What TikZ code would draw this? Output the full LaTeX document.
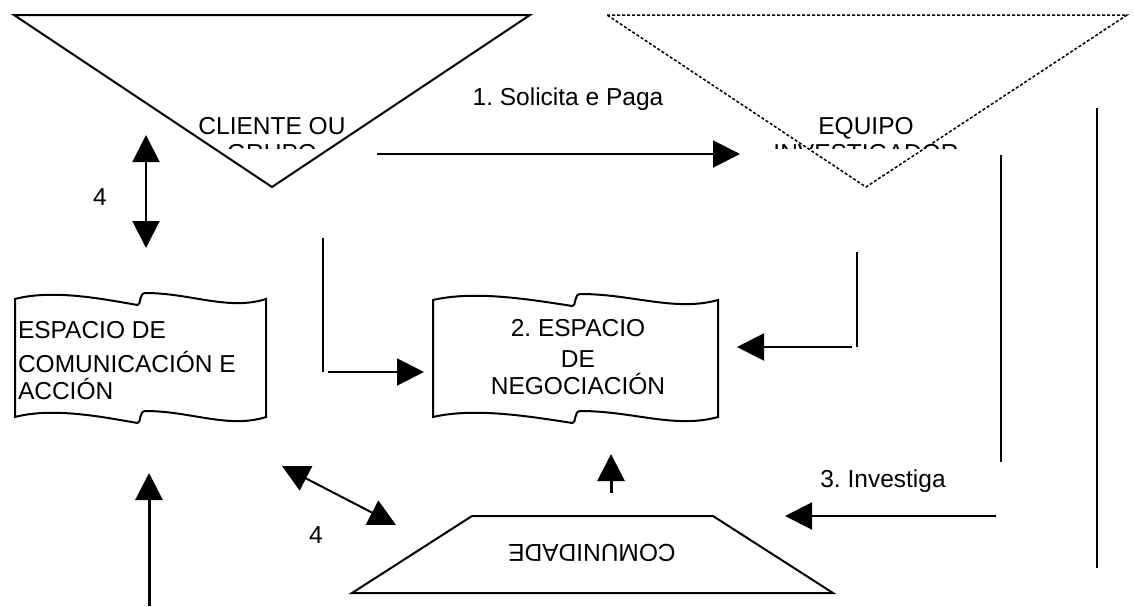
\documentclass[tikz,border=0pt]{standalone}
\usepackage{fontspec}
\setmainfont{Liberation Sans}
\frenchspacing
\usepackage{tikz}
\usetikzlibrary{arrows.meta}
\usetikzlibrary{positioning}

% cinta ondulada: esquina superior izquierda, ancho, alto
\newcommand{\cinta}[3]{%
  \begin{scope}[shift={#1}]
    \draw (0,0) .. controls ({0.15*#2},-10) and ({0.35*#2},0) .. ({0.5*#2-3},6)
      .. controls ({0.5*#2+1},6) and ({0.5*#2-2},-6) .. ({0.5*#2+5},-6)
      .. controls ({0.7*#2},-6) and ({0.85*#2},12) .. (#2,0)
      -- (#2,#3)
      .. controls ({0.85*#2},{#3+12}) and ({0.7*#2},{#3-6}) .. ({0.5*#2+5},{#3-6})
      .. controls ({0.5*#2-2},{#3-6}) and ({0.5*#2+1},{#3+6}) .. ({0.5*#2-3},{#3+6})
      .. controls ({0.35*#2},#3) and ({0.15*#2},{#3-10}) .. (0,#3) -- cycle;
  \end{scope}}

\begin{document}
\begin{tikzpicture}[x=1pt, y=-1pt, line width=2pt,
    every node/.style={font=\fontsize{24.5}{27}\selectfont, inner sep=0pt},
    flecha/.style={-{Triangle[length=27pt, width=27pt]}},
    dobleflecha/.style={{Triangle[length=27pt, width=27pt]}-{Triangle[length=27pt, width=27pt]}}]

        \useasboundingbox (0,0) rectangle (1134,606);

        % Triangulos
        \draw (14,15) -- (530,15) -- (272,187) -- cycle;
        \draw[line width=1.5pt, dash pattern=on 3pt off 2pt] (607,15) -- (1127,15) -- (866,187) -- cycle;
        \begin{scope}
            \clip (0,0) rectangle (1134,148);
            \node[align=center, anchor=north] (cliente) at (272,116) {CLIENTE OU\\GRUPO};
            \node[align=center, anchor=north] (equipo) at (866,116) {EQUIPO\\INVESTIGADOR};
        \end{scope}

        % Cintas
        \cinta{(15,299)}{251}{118}
        \cinta{(433,300)}{285}{117}
        \node[align=left, anchor=north west] (espacio) at (17,320) {ESPACIO DE\\[7pt]COMUNICACIÓN E\\ACCIÓN};
        \node[align=center, anchor=north] (negociacion) at (578,318) {2. ESPACIO\\[4pt]DE\\NEGOCIACIÓN};

        % Comunidade
        \draw (472,516) -- (713,516) -- (833,593) -- (352,593) -- cycle;
        \node[rotate=180] (comunidade) at (592,553) {COMUNIDADE};

        % Puntos libres
        \coordinate (s1) at (377,154);
        \coordinate (s2) at (740,154);
        \coordinate (c1) at (146,135);
        \coordinate (c2) at (146,248);
        \coordinate (n1) at (323,238);
        \coordinate (n2) at (323,372);
        \coordinate (n3) at (328,372);
        \coordinate (n4) at (424,372);
        \coordinate (e1) at (857,252);
        \coordinate (e2) at (857,347);
        \coordinate (e3) at (852,347);
        \coordinate (e4) at (737,347);
        \coordinate (i1) at (1001,155);
        \coordinate (i2) at (1001,462);
        \coordinate (i3) at (1097,108);
        \coordinate (i4) at (1097,568);
        \coordinate (i5) at (996,516);
        \coordinate (i6) at (785,516);
        \coordinate (u1) at (611,493);
        \coordinate (u2) at (611,454);
        \coordinate (d1) at (282,466);
        \coordinate (d2) at (396,525);
        \coordinate (a1) at (149,606);
        \coordinate (a2) at (149,473);

        % Flechas
        \draw[flecha] (s1) -- (s2);
        \node[anchor=base] (solicita) at (568,105) {1. Solicita e Paga};
        \draw[dobleflecha] (c1) -- (c2);
        \node (cuatro) at (100,197) {4};
        \draw (n1) -- (n2);
        \draw[flecha] (n3) -- (n4);
        \draw (e1) -- (e2);
        \draw[flecha] (e3) -- (e4);
        \draw (i1) -- (i2);
        \draw (i3) -- (i4);
        \draw[flecha] (i5) -- (i6);
        \node[anchor=base] (investiga) at (883,487) {3. Investiga};
        \draw[flecha, line width=3pt] (u1) -- (u2);
        \draw[dobleflecha] (d1) -- (d2);
        \node (cuatrob) at (316,535) {4};
        \draw[flecha, line width=3pt] (a1) -- (a2);

    \end{tikzpicture}
\end{document}
